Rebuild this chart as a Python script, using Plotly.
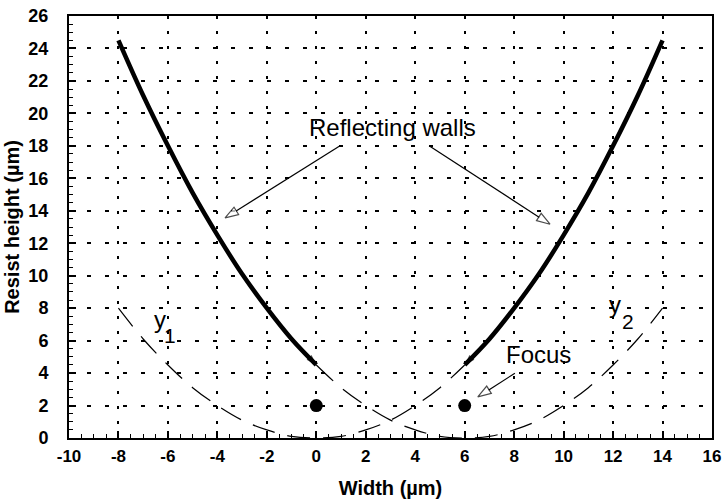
import plotly.graph_objects as go

# ---- data ----
left_wall_x = [-8, -7, -6, -5, -4, -3, -2, -1, 0]
left_wall_y = [24.5, 21.1, 18.0, 15.1, 12.5, 10.1, 8.0, 6.1, 4.5]
right_wall_x = [14, 13, 12, 11, 10, 9, 8, 7, 6]
right_wall_y = [24.5, 21.1, 18.0, 15.1, 12.5, 10.1, 8.0, 6.1, 4.5]

y1_x = [-8, -7, -6, -5, -4, -3, -2, -1, 0, 1, 2, 3, 4, 5, 6]
y1_y = [8.0, 6.1, 4.5, 3.1, 2.0, 1.1, 0.5, 0.1, 0.0, 0.1, 0.5, 1.1, 2.0, 3.1, 4.5]
y2_x = [0, 1, 2, 3, 4, 5, 6, 7, 8, 9, 10, 11, 12, 13, 14]
y2_y = [4.5, 3.1, 2.0, 1.1, 0.5, 0.1, 0.0, 0.1, 0.5, 1.1, 2.0, 3.1, 4.5, 6.1, 8.0]

focus_x = [0, 6]
focus_y = [2, 2]

x_ticks = [-10, -8, -6, -4, -2, 0, 2, 4, 6, 8, 10, 12, 14, 16]
x_tick_labels = ["-10", "-8", "-6", "-4", "-2", "0", "2", "4", "6", "8", "10", "12", "14", "16"]
y_ticks = [0, 2, 4, 6, 8, 10, 12, 14, 16, 18, 20, 22, 24, 26]
y_tick_labels = ["0", "2", "4", "6", "8", "10", "12", "14", "16", "18", "20", "22", "24", "26"]

FONT = "Liberation Sans, Arial, Helvetica, sans-serif"

fig = go.Figure()

# dashed parabolas
for xs, ys in [(y1_x, y1_y), (y2_x, y2_y)]:
    fig.add_trace(go.Scatter(
        x=xs, y=ys, mode="lines", line=dict(color="black", width=1.2, dash="23px,13px", shape="spline"),
        hoverinfo="skip"))

# thick reflecting walls with pointed ends
for xs, ys in [(left_wall_x, left_wall_y), (right_wall_x, right_wall_y)]:
    sizes = [0] * (len(xs) - 1) + [11]
    fig.add_trace(go.Scatter(
        x=xs, y=ys, mode="lines+markers",
        line=dict(color="black", width=4.5, shape="spline"),
        marker=dict(symbol="arrow", angleref="previous", size=sizes, color="black",
                    line=dict(width=0)),
        hoverinfo="skip"))

# focus points
fig.add_trace(go.Scatter(x=focus_x, y=focus_y, mode="markers",
                         marker=dict(size=13, color="black"), hoverinfo="skip"))

# annotation arrows (open heads)
arrows = [
    ((0.96, 18.0), (-3.69, 13.56)),
    ((4.56, 18.0), (9.45, 13.17)),
    ((8.03, 3.99), (6.53, 2.53)),
]
for (x0, y0), (x1, y1) in arrows:
    fig.add_trace(go.Scatter(
        x=[x0, x1], y=[y0, y1], mode="lines+markers",
        line=dict(color="black", width=1.2),
        marker=dict(symbol="arrow", angleref="previous", size=[0, 14], color="white",
                    line=dict(color="black", width=1.2)),
        hoverinfo="skip"))

annots = [
    dict(x=3.1, y=19.1, text="Reflecting walls", size=24),
    dict(x=8.97, y=5.13, text="Focus", size=24),
    dict(x=-6.34, y=7.31, text="y", size=24),
    dict(x=-5.92, y=6.3, text="1", size=21),
    dict(x=12.08, y=8.24, text="y", size=24),
    dict(x=12.62, y=7.16, text="2", size=21),
]
for a in annots:
    fig.add_annotation(x=a["x"], y=a["y"], text=a["text"], showarrow=False,
                       font=dict(family=FONT, size=a["size"], color="black"),
                       xanchor="center", yanchor="middle")

axis_common = dict(
    showline=True, linecolor="black", linewidth=2, mirror=True,
    ticks="inside", ticklen=7, tickwidth=1.5, tickcolor="black",
    showgrid=True, gridcolor="black", gridwidth=1.6,
    zeroline=False, automargin=False,
    minor=dict(ticks="inside", ticklen=4, tickwidth=1.2, tickcolor="black", dtick=0.5, showgrid=False),
)

fig.update_xaxes(
    **axis_common, range=[-10, 16], tickvals=x_ticks, ticktext=x_tick_labels, griddash="3px,12px",
    tickfont=dict(family=FONT, size=17, color="black", weight="bold"),
    title=dict(text="Width (µm)", font=dict(family=FONT, size=20, color="black", weight="bold"), standoff=16),
    ticklabelstandoff=2,
)
fig.update_yaxes(
    **axis_common, range=[0, 26], tickvals=y_ticks, ticktext=y_tick_labels, griddash="4px,14px",
    tickfont=dict(family=FONT, size=18, color="black", weight="bold"),
    title=dict(text="Resist height (µm)", font=dict(family=FONT, size=20, color="black", weight="bold"), standoff=3),
    ticklabelstandoff=15,
)

fig.update_layout(
    width=722, height=503,
    margin=dict(l=69, r=10, t=16, b=65),
    paper_bgcolor="white", plot_bgcolor="white",
    showlegend=False,
)

# remove the default 8px body margin so the figure fills the window exactly
fig.write_html("out.html", config={"displayModeBar": False},
               post_script="document.body.style.margin='0';document.body.style.overflow='hidden';")
